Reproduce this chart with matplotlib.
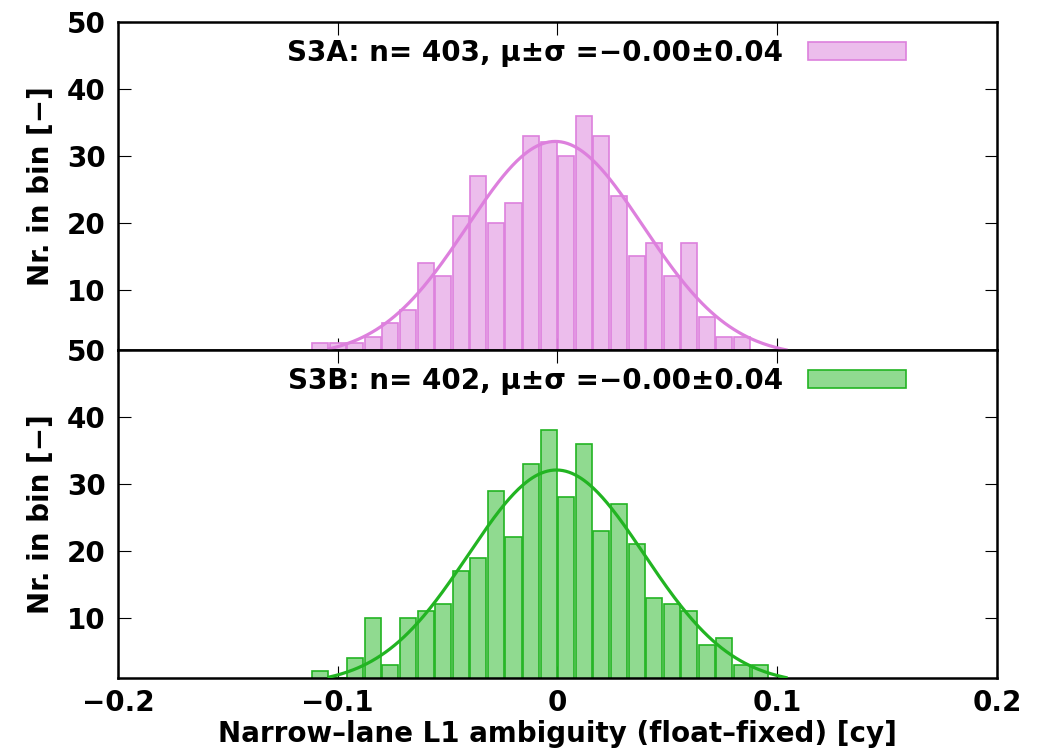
import numpy as np
import matplotlib
matplotlib.use("Agg")
import matplotlib.pyplot as plt
from matplotlib.ticker import FixedLocator, FuncFormatter

plt.rcParams['font.family'] = ['DejaVu Sans']
plt.rcParams['font.weight'] = 'bold'
plt.rcParams['font.size'] = 20

# histogram bins (centres, cycles) and counts per satellite
bin_centers = [-0.108, -0.100, -0.092, -0.084, -0.076, -0.068, -0.060, -0.052,
               -0.044, -0.036, -0.028, -0.020, -0.012, -0.004, 0.004, 0.012,
               0.020, 0.028, 0.036, 0.044, 0.052, 0.060, 0.068, 0.076, 0.084,
               0.092]
counts_s3a = [2, 2, 2, 3, 5, 7, 14, 12, 21, 27, 20, 23, 33, 32, 30, 36, 33, 24,
              15, 17, 12, 17, 6, 3, 3, 0]
counts_s3b = [2, 1, 4, 10, 3, 10, 11, 12, 17, 19, 29, 22, 33, 38, 28, 36, 23, 27,
              21, 13, 12, 11, 6, 7, 3, 3]

# fitted normal curves (from the legend statistics)
n_s3a, mu_s3a, sig_s3a = 403, -0.001, 0.04
n_s3b, mu_s3b, sig_s3b = 402, -0.0005, 0.04
bin_width = 0.008
curve_range = (-0.104, 0.104)

labels = ["S3A: n= 403, μ±σ =−0.00±0.04", "S3B: n= 402, μ±σ =−0.00±0.04"]
fills = ["#ecbdec", "#90da90"]
edges = ["#dd80dd", "#22b422"]

fig = plt.figure(figsize=(10.56, 7.56), dpi=100)
ax1 = fig.add_axes([0.1117, 0.537, 0.8324, 0.434])
ax2 = fig.add_axes([0.1117, 0.1032, 0.8324, 0.4338])

data = [(ax1, counts_s3a, n_s3a, mu_s3a, sig_s3a),
        (ax2, counts_s3b, n_s3b, mu_s3b, sig_s3b)]

for i, (ax, counts, n, mu, sig) in enumerate(data):
    ax.bar(bin_centers, counts, width=0.0073, color=fills[i],
           edgecolor=edges[i], linewidth=1.2, label=labels[i], zorder=2)
    xs = np.linspace(curve_range[0], curve_range[1], 300)
    ys = n * bin_width / (sig * np.sqrt(2 * np.pi)) * np.exp(-0.5 * ((xs - mu) / sig) ** 2)
    ax.plot(xs, ys, color=edges[i], lw=2.3, zorder=3)

    ax.set_xlim(-0.2, 0.2)
    ax.set_ylim(1, 50)
    ax.yaxis.set_major_locator(FixedLocator([10, 20, 30, 40, 50]))
    ax.xaxis.set_major_locator(FixedLocator([-0.2, -0.1, 0, 0.1, 0.2]))
    ax.xaxis.set_major_formatter(FuncFormatter(lambda v, p: f"{v:g}".replace("-", "\u2212")))
    ax.tick_params(direction='in', length=9, width=0.8, top=True, right=True,
                   labelsize=20, pad=8)
    ax.tick_params(axis='y', pad=9)
    for s in ax.spines.values():
        s.set_linewidth(1.8)
    ax.set_ylabel("Nr. in bin [\u2212]", fontsize=20, fontweight='bold', labelpad=8)
    ax.legend(loc='upper right', frameon=False, markerfirst=False,
              handlelength=3.5, handleheight=0.6, handletextpad=0.9,
              borderaxespad=0.2, bbox_to_anchor=(0.915, 1.0), fontsize=20)

ax1.tick_params(labelbottom=False)
ax2.set_xlabel("Narrow\u2013lane L1 ambiguity (float\u2013fixed) [cy]",
               fontsize=20, fontweight='bold', labelpad=2)

fig.savefig("out.png", dpi=100)
